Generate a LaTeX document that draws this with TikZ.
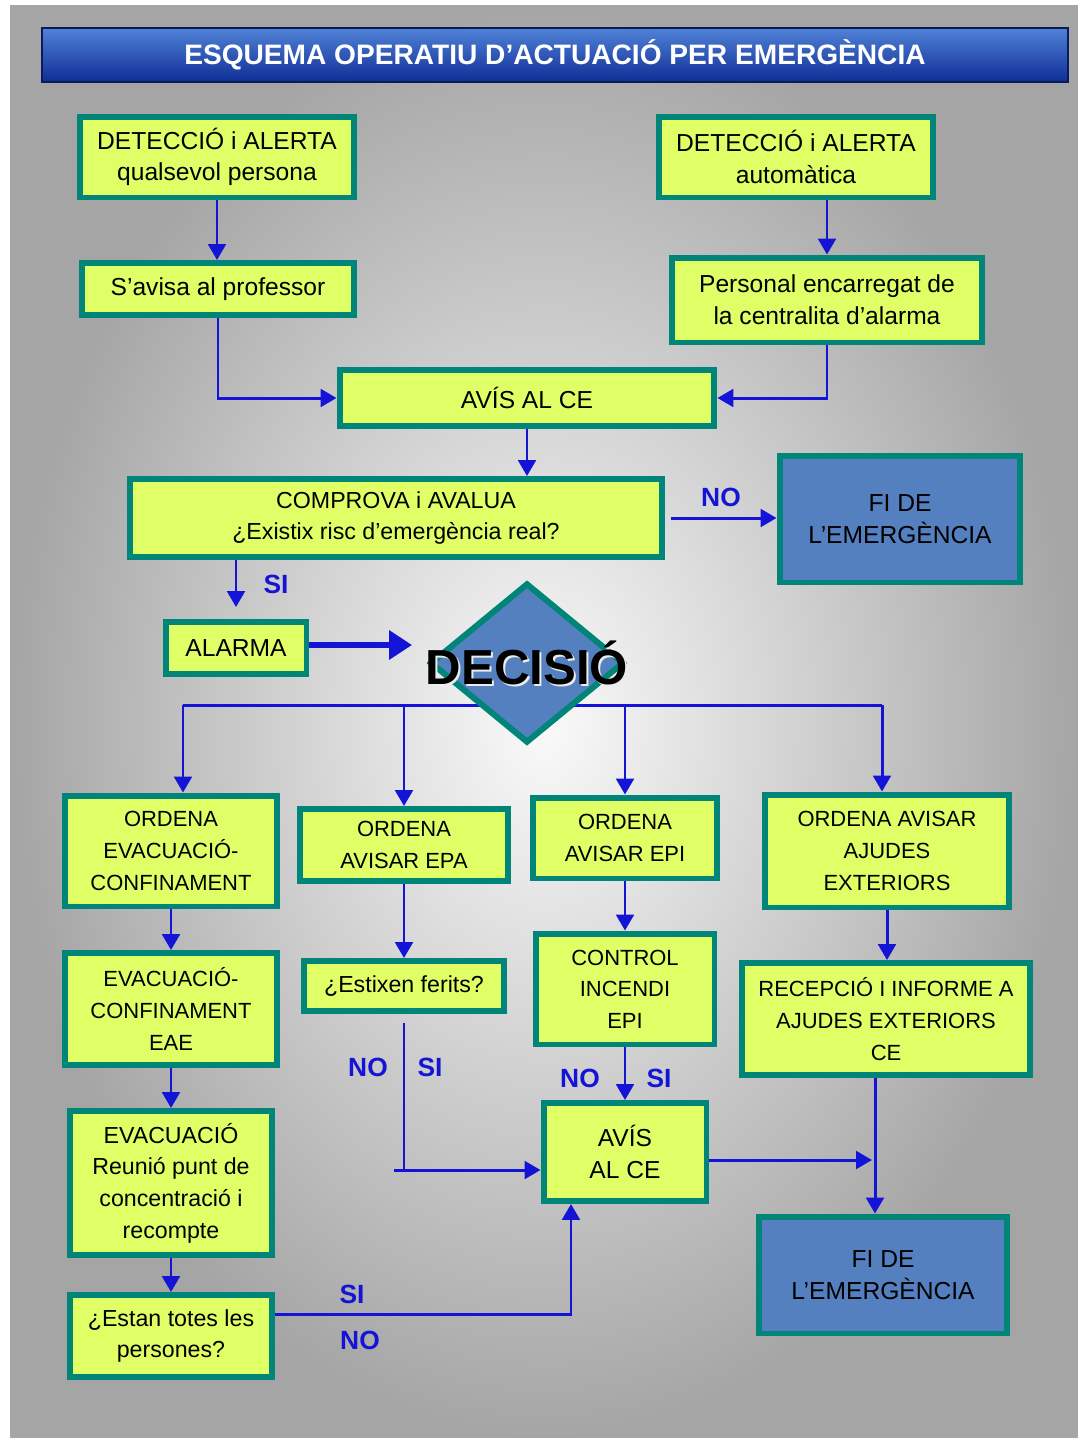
\documentclass[tikz,border=0pt]{standalone}
\usepackage{fontspec}
\setmainfont{Liberation Sans}
\usetikzlibrary{arrows.meta,shapes.geometric,calc}
\definecolor{boxfill}{RGB}{224,255,102}
\definecolor{boxline}{RGB}{0,133,120}
\definecolor{endfill}{RGB}{84,128,192}
\definecolor{arrowblue}{RGB}{20,20,215}
\definecolor{bgouter}{RGB}{165,165,165}
\definecolor{bginner}{RGB}{250,250,250}
\definecolor{titletop}{RGB}{80,130,215}
\definecolor{titlebot}{RGB}{15,45,150}
\tikzset{
  box/.style={draw=boxline, line width=3.4pt, fill=boxfill, align=center, inner sep=0pt, font=\fontsize{12.5}{18}\selectfont},
  bigtext/.style={font=\fontsize{14}{18}\selectfont},
  midtext/.style={font=\fontsize{13.2}{18}\selectfont},
  endbox/.style={box, bigtext, fill=endfill},
  arr/.style={draw=arrowblue, line width=1.7pt, -{Triangle[width=10pt,length=9pt]}},
  line/.style={draw=arrowblue, line width=1.7pt},
  lbl/.style={text=arrowblue, font=\fontsize{15}{15}\selectfont\bfseries},
}
\begin{document}
\begin{tikzpicture}[x=0.02cm,y=-0.02cm]
  \fill[white] (0,0) rectangle (1078,1438);
  \shade[inner color=bginner, outer color=bgouter] (10,5) rectangle (1078,1438);
  \node[draw=titlebot!60!black, line width=0.8pt, top color=titletop, bottom color=titlebot, minimum width=20.52cm, minimum height=1.08cm, text=white, font=\fontsize{16}{16}\selectfont\bfseries] (title) at (555,55) {ESQUEMA OPERATIU D'ACTUACIÓ PER EMERGÈNCIA};

  \node[box, bigtext, minimum width=5.5cm, minimum height=1.62cm] (det1) at (217,157) {DETECCIÓ i ALERTA\\qualsevol persona};
  \node[box, bigtext, minimum width=5.5cm, minimum height=1.62cm] (det2) at (796,157) {DETECCIÓ i ALERTA\\automàtica};
  \node[box, bigtext, minimum width=5.44cm, minimum height=1.04cm] (avis1) at (218,289) {S'avisa al professor};
  \node[box, bigtext, minimum width=6.22cm, minimum height=1.7cm] (pers) at (827,300) {Personal encarregat de\\la centralita d'alarma};
  \node[box, bigtext, minimum width=7.5cm, minimum height=1.12cm] (ce1) at (527,398) {AVÍS AL CE};
  \node[box, midtext, minimum width=10.66cm, minimum height=1.56cm] (comp) at (396,518) {COMPROVA i AVALUA\\¿Existix risc d'emergència real?};
  \node[endbox, minimum width=4.82cm, minimum height=2.54cm] (fi1) at (900,519) {FI DE\\L'EMERGÈNCIA};
  \node[box, bigtext, minimum width=2.82cm, minimum height=1.04cm] (alarma) at (236,648) {ALARMA};

  \node[box, minimum width=4.26cm, minimum height=2.22cm] (ord1) at (171,851) {ORDENA\\EVACUACIÓ-\\CONFINAMENT};
  \node[box, minimum width=4.18cm, minimum height=1.44cm] (ord2) at (404,845) {ORDENA\\AVISAR EPA};
  \node[box, minimum width=3.68cm, minimum height=1.62cm] (ord3) at (625,838) {ORDENA\\AVISAR EPI};
  \node[box, minimum width=4.9cm, minimum height=2.26cm] (ord4) at (887,851) {ORDENA AVISAR\\AJUDES\\EXTERIORS};
  \node[box, minimum width=4.26cm, minimum height=2.24cm] (evc) at (171,1009) {EVACUACIÓ-\\CONFINAMENT\\EAE};
  \node[box, midtext, minimum width=4.0cm, minimum height=1.0cm] (ferits) at (404,986) {¿Estixen ferits?};
  \node[box, minimum width=3.58cm, minimum height=2.22cm] (ctrl) at (625,989) {CONTROL\\INCENDI\\EPI};
  \node[box, minimum width=5.78cm, minimum height=2.24cm] (recep) at (886,1019) {RECEPCIÓ I INFORME A\\AJUDES EXTERIORS\\CE};
  \node[box, midtext, minimum width=4.06cm, minimum height=2.88cm] (evac) at (171,1183) {EVACUACIÓ\\Reunió punt de\\concentració i\\recompte};
  \node[box, bigtext, minimum width=3.26cm, minimum height=1.96cm] (ce2) at (625,1152) {AVÍS\\AL CE};
  \node[endbox, minimum width=4.96cm, minimum height=2.34cm] (fi2) at (883,1275) {FI DE\\L'EMERGÈNCIA};
  \node[box, midtext, minimum width=4.06cm, minimum height=1.64cm] (totes) at (171,1336) {¿Estan totes les\\persones?};

  \draw[arr] (det1.south) -- (det1.south |- avis1.north);
  \draw[arr] (avis1.south) |- (ce1.west);
  \draw[arr] (det2.south -| pers.north) -- (pers.north);
  \draw[arr] (pers.south) |- (ce1.east);
  \draw[arr] (ce1.south) -- (ce1.south |- comp.north);
  \draw[arr, shorten <=3pt] (comp.east) -- (comp.east -| fi1.west) node[lbl, midway, above=2pt] (no1) {NO};
  \draw[arr] (comp.south -| alarma.north) -- ($(alarma.north)+(0,-12)$);
  \node[lbl] (si1) at (276,584) {SI};

  \coordinate (bus) at (527,705);
  \draw[line] ($(ord1.north |- bus)+(12,0)$) -- ($(ord4.north |- bus)+(-5,0)$);
  \draw[arr] ($(ord1.north |- bus)+(12,0)$) -- ($(ord1.north)+(12,0)$);
  \draw[arr] (ord2.north |- bus) -- (ord2.north);
  \draw[arr] (ord3.north |- bus) -- (ord3.north);
  \draw[arr] ($(ord4.north |- bus)+(-5,0)$) -- ($(ord4.north)+(-5,0)$);

  \node[diamond, draw=boxline, line width=3.4pt, fill=endfill, minimum width=3.88cm, minimum height=3.2cm, inner sep=0pt] (dec) at (527,663) {};
  \node[text=white!85!gray, font=\fontsize{28}{28}\selectfont\bfseries] (decs) at ($(dec)+(2,2)$) {DECISIÓ};
  \node[font=\fontsize{28}{28}\selectfont\bfseries] (dectext) at (dec) {DECISIÓ};
  \draw[arr, line width=3.5pt, -{Triangle[width=16pt,length=13pt]}] ($(alarma.east)+(0,-3)$) -- ($(alarma.east -| dec.west)+(-15,-3)$);

  \draw[arr] (ord1.south) -- (evc.north);
  \draw[arr] (evc.south) -- (evac.north);
  \draw[arr] (evac.south) -- (totes.north);

  \draw[arr] (ord2.south) -- (ferits.north);
  \coordinate (fj) at ($(ferits.south |- ce2.west)+(0,18)$);
  \draw[line, shorten <=5pt] (ferits.south) -- (fj);
  \draw[arr] ($(fj)+(-10,0)$) -- (fj -| ce2.west);
  \node[lbl] (no2) at (368,1067) {NO};
  \node[lbl] (si2) at (430,1067) {SI};

  \draw[arr] (ord3.south) -- (ctrl.north);
  \draw[arr] (ctrl.south) -- (ce2.north);
  \node[lbl] (no3) at (580,1078) {NO};
  \node[lbl] (si3) at (659,1078) {SI};

  \draw[arr] (ord4.south) -- (ord4.south |- recep.north);
  \coordinate (rj) at ($(recep.south)+(-11,0)$);
  \draw[arr] (rj) -- (rj |- fi2.north);
  \coordinate (cj) at ($(ce2.east)+(0,8)$);
  \draw[arr] (cj) -- ($(cj -| rj)+(-3,0)$);

  \coordinate (tj) at ($(totes.east)+(0,-22)$);
  \draw[arr] (tj) -| ($(ce2.south)+(-54,0)$);
  \node[lbl] (si4) at (352,1294) {SI};
  \node[lbl] (no4) at (360,1340) {NO};
\end{tikzpicture}
\end{document}
